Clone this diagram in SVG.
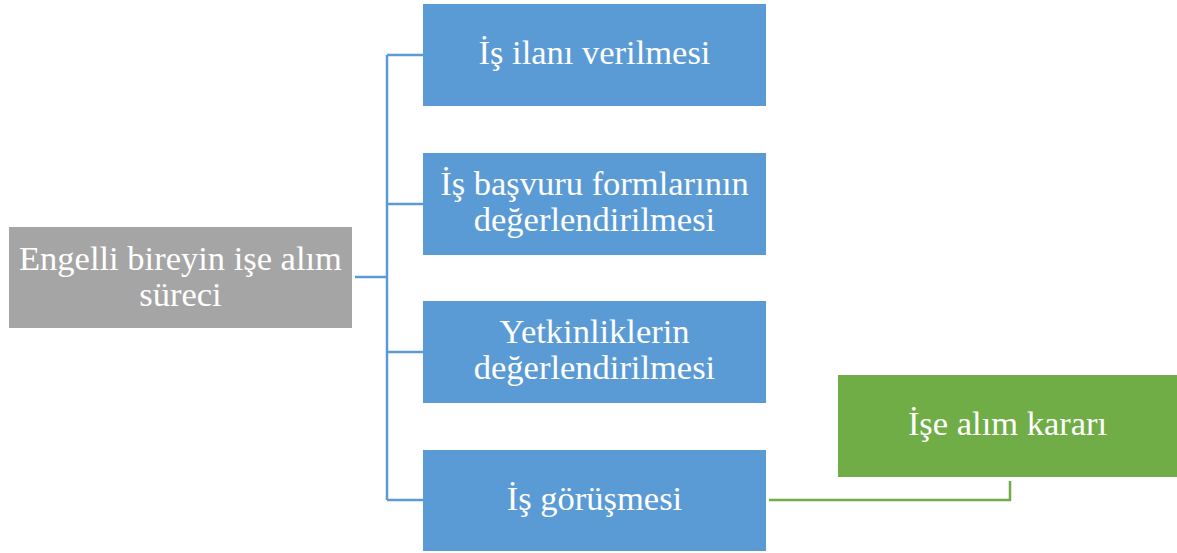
<svg xmlns="http://www.w3.org/2000/svg" width="1177" height="553" viewBox="0 0 1177 553">
<style>
.t{font-family:"Liberation Serif","DejaVu Serif",serif;font-size:34.5px;fill:#ffffff;text-anchor:middle}
.blue{fill:#5b9bd5}
.c{fill:none;stroke-width:2.5}
</style>
<rect width="1177" height="553" fill="#ffffff"/>
<g id="connectors">
<path class="c" stroke="#5b9bd5" d="M355 277H387M387 55V500M387 55H423M387 204H423M387 352H423M387 500H423"/>
<path class="c" stroke="#70ad47" d="M769 500H1010V481"/>
</g>
<g id="root">
<rect x="9" y="227" width="343" height="101" fill="#a5a5a5"/>
<text class="t" x="180.5" y="270">Engelli bireyin işe alım</text>
<text class="t" x="180.5" y="306">süreci</text>
</g>
<g id="n1">
<rect class="blue" x="423" y="4" width="343" height="102"/>
<text class="t" x="594.5" y="64">İş ilanı verilmesi</text>
</g>
<g id="n2">
<rect class="blue" x="423" y="153" width="343" height="102"/>
<text class="t" x="594.5" y="195">İş başvuru formlarının</text>
<text class="t" x="594.5" y="231">değerlendirilmesi</text>
</g>
<g id="n3">
<rect class="blue" x="423" y="301" width="343" height="102"/>
<text class="t" x="594.5" y="343">Yetkinliklerin</text>
<text class="t" x="594.5" y="379">değerlendirilmesi</text>
</g>
<g id="n4">
<rect class="blue" x="423" y="450" width="343" height="101"/>
<text class="t" x="594.5" y="510">İş görüşmesi</text>
</g>
<g id="n5">
<rect x="838" y="375" width="339" height="102" fill="#70ad47"/>
<text class="t" x="1007.5" y="435">İşe alım kararı</text>
</g>
</svg>
